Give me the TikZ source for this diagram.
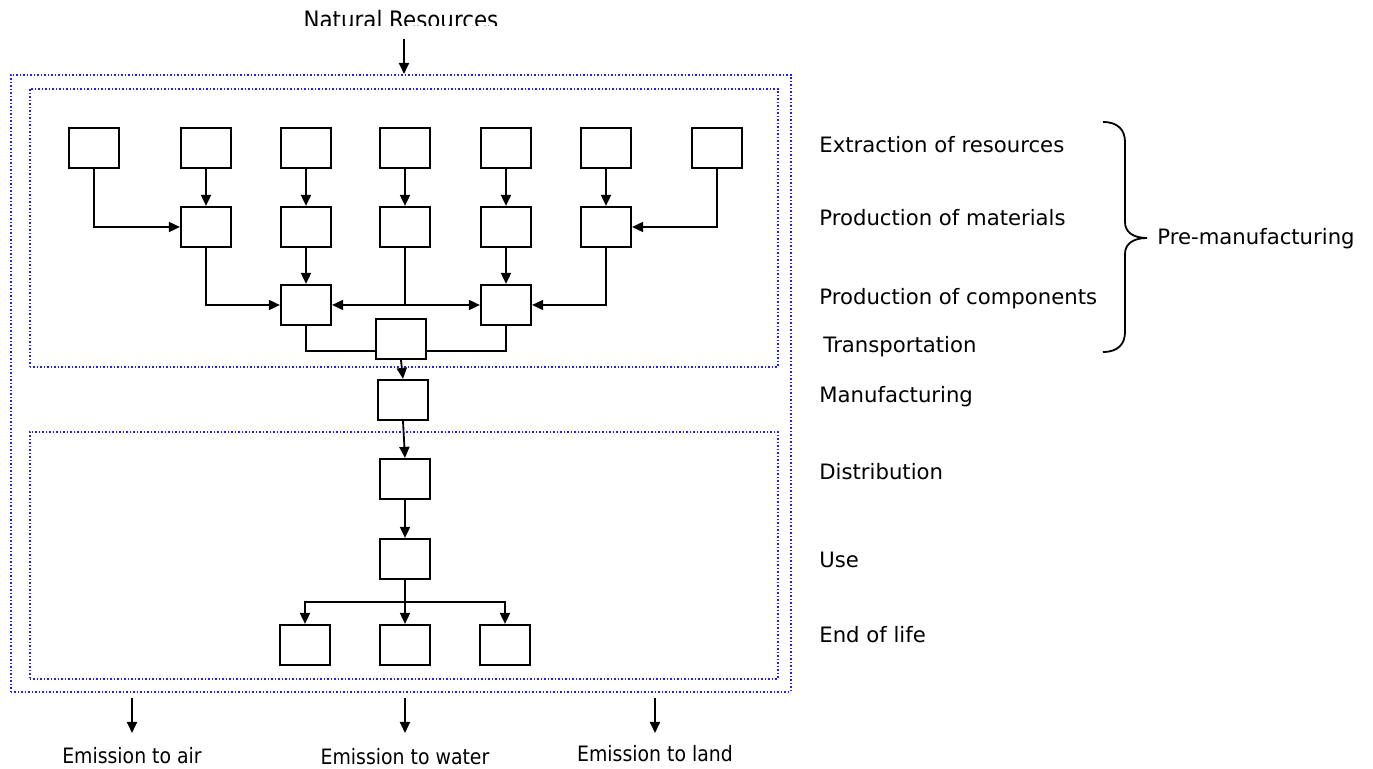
\documentclass[tikz,border=0pt]{standalone}
\usepackage{fontspec}
\setmainfont{DejaVu Sans}
\newfontfamily\narrowfont{DejaVu Sans}[FakeStretch=0.89]
\usetikzlibrary{arrows.meta}
\definecolor{dotblue}{RGB}{30,30,255}
\begin{document}
\begin{tikzpicture}[x=0.5pt,y=-0.5pt,
  bx/.style={draw, line width=1.1pt, minimum width=25pt, minimum height=20pt, inner sep=0pt, fill=white},
  conn/.style={line width=0.9pt},
  arr/.style={conn, -{Triangle[length=5.5pt,width=5pt]}},
  frame/.style={draw=dotblue, line width=0.85pt, dash pattern=on 0.8pt off 0.95pt, inner sep=0pt, anchor=north west},
  lbl/.style={anchor=base west, inner sep=0pt, font=\fontsize{10.6}{12}\selectfont},
  emi/.style={anchor=base, inner sep=0pt, font=\narrowfont\fontsize{10.6}{12}\selectfont},
  brace/.style={line width=0.9pt}
]
\useasboundingbox (0,0) rectangle (1373,769);

% frames
\node[frame, minimum width=390pt, minimum height=308.5pt] (outer) at (10,74) {};
\node[frame, minimum width=374pt, minimum height=139pt] (innertop) at (29,88) {};
\node[frame, minimum width=374pt, minimum height=123.5pt] (innerbot) at (29,431) {};

% natural resources
\begin{scope}
\clip (200,0) rectangle (600,26);
\node[emi, font=\narrowfont\fontsize{12}{14}\selectfont] (nat) at (401,29) {Natural Resources};
\end{scope}
\coordinate (natA) at (404,39);
\draw[arr] (natA) -- (natA |- outer.north);

% boxes
\node[bx] (t1) at (94,148) {};
\node[bx] (t2) at (206,148) {};
\node[bx] (t3) at (306,148) {};
\node[bx] (t4) at (405,148) {};
\node[bx] (t5) at (506,148) {};
\node[bx] (t6) at (606,148) {};
\node[bx] (t7) at (717,148) {};

\node[bx] (m1) at (206,227) {};
\node[bx] (m2) at (306,227) {};
\node[bx] (m3) at (405,227) {};
\node[bx] (m4) at (506,227) {};
\node[bx] (m5) at (606,227) {};

\node[bx] (c1) at (306,305) {};
\node[bx] (c2) at (506,305) {};

\node[bx] (tr) at (401,339) {};
\node[bx] (mf) at (403,400) {};
\node[bx] (ds) at (405,479) {};
\node[bx] (us) at (405,559) {};

\node[bx] (e1) at (305,645) {};
\node[bx] (e2) at (405,645) {};
\node[bx] (e3) at (505,645) {};

% connectors
\draw[arr] (t1.south) |- (m1.west);
\draw[arr] (t2.south) -- (m1.north);
\draw[arr] (t3.south) -- (m2.north);
\draw[arr] (t4.south) -- (m3.north);
\draw[arr] (t5.south) -- (m4.north);
\draw[arr] (t6.south) -- (m5.north);
\draw[arr] (t7.south) |- (m5.east);

\draw[arr] (m1.south) |- (c1.west);
\draw[arr] (m2.south) -- (c1.north);
\coordinate (j) at (m3.south |- c1.west);
\draw[conn] (m3.south) -- (j);
\draw[arr] (j) -- (c1.east);
\draw[arr] (j) -- (c2.west);
\draw[arr] (m4.south) -- (c2.north);
\draw[arr] (m5.south) |- (c2.east);

\coordinate (ty) at (0,351);
\draw[conn] (c1.south) |- (tr.west |- ty);
\draw[conn] (c2.south) |- (tr.east |- ty);

\draw[arr] (tr.south) -- (mf.north);
\draw[arr] (mf.south) -- (ds.north);
\draw[arr] (ds.south) -- (us.north);

\coordinate (b) at (405,602);
\draw[conn] (us.south) -- (b);
\draw[arr] (b) -| (e1.north);
\draw[arr] (b) -- (e2.north);
\draw[arr] (b) -| (e3.north);

% emissions
\coordinate (ea1) at (132,698);
\coordinate (ea2) at (132,733);
\coordinate (ew1) at (405,698);
\coordinate (ew2) at (405,733);
\coordinate (el1) at (655,698);
\coordinate (el2) at (655,733);
\draw[arr] (ea1) -- (ea2);
\draw[arr] (ew1) -- (ew2);
\draw[arr] (el1) -- (el2);
\node[emi] (air) at (132,764) {Emission to air};
\node[emi] (water) at (405,765) {Emission to water};
\node[emi] (land) at (655,762) {Emission to land};

% stage labels
\node[lbl] (l1) at (819,153) {Extraction of resources};
\node[lbl] (l2) at (819,226) {Production of materials};
\node[lbl] (l3) at (819,305) {Production of components};
\node[lbl] (l4) at (823,353) {Transportation};
\node[lbl] (l5) at (819,403) {Manufacturing};
\node[lbl] (l6) at (819,480) {Distribution};
\node[lbl] (l7) at (819,568) {Use};
\node[lbl] (l8) at (819,643) {End of life};

% brace
\draw[brace] (1103,122) .. controls (1118,122) and (1125,130) .. (1125,142)
  -- (1125,222) .. controls (1125,232) and (1133,238) .. (1147,238)
  .. controls (1133,238) and (1125,244) .. (1125,254)
  -- (1125,332) .. controls (1125,344) and (1118,352) .. (1103,352);
\node[lbl] (pm) at (1157,245) {Pre-manufacturing};
\end{tikzpicture}
\end{document}
